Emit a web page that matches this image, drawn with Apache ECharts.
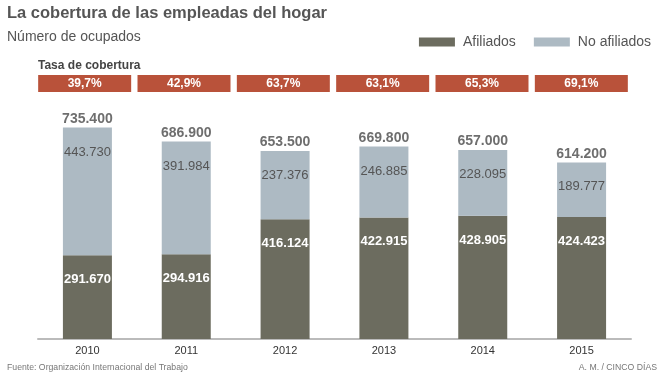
<!DOCTYPE html>
<html>
<head>
<meta charset="utf-8">
<script src="https://cdn.jsdelivr.net/npm/echarts@6/dist/echarts.min.js"></script>
<style>
  html, body { margin: 0; padding: 0; background: #fff; }
  #chart { width: 664px; height: 377px; }
</style>
</head>
<body>
<div id="chart"></div>
<script>
// datos: EPA / OIT, empleadas del hogar
var years = ['2010', '2011', '2012', '2013', '2014', '2015'];
var afiliados = [291670, 294916, 416124, 422915, 428905, 424423];
var noAfiliados = [443730, 391984, 237376, 246885, 228095, 189777];
var totales = [735400, 686900, 653500, 669800, 657000, 614200];
var tasa = [39.7, 42.9, 63.7, 63.1, 65.3, 69.1];

var font = 'Liberation Sans, Arial, sans-serif';

function miles(v) {
    return String(v).replace(/\B(?=(\d{3})+(?!\d))/g, '.');
}

var chart = echarts.init(document.getElementById('chart'));

var option = {
    animation: false,
    textStyle: { fontFamily: font },
    title: [
        {
            text: 'La cobertura de las empleadas del hogar',
            left: 7, top: 5, padding: 0,
            textStyle: { fontSize: 16.5, fontWeight: 'bold', color: '#555' }
        },
        {
            text: 'Número de ocupados',
            left: 7, top: 30, padding: 0,
            textStyle: { fontSize: 14, fontWeight: 'normal', color: '#555' }
        },
        {
            text: 'Tasa de cobertura',
            left: 38, top: 60, padding: 0,
            textStyle: { fontSize: 12, fontWeight: 'bold', color: '#444' }
        },
        {
            text: 'Fuente: Organización Internacional del Trabajo',
            left: 7, top: 363, padding: 0,
            textStyle: { fontSize: 8.7, fontWeight: 'normal', color: '#777' }
        },
        {
            text: 'A. M. / CINCO DÍAS',
            right: 7, top: 363, padding: 0,
            textStyle: { fontSize: 8.7, fontWeight: 'normal', color: '#777' }
        }
    ],
    legend: {
        right: 8, top: 30,
        itemWidth: 36, itemHeight: 9,
        itemGap: 18,
        icon: 'rect',
        data: ['Afiliados', 'No afiliados'],
        textStyle: { fontSize: 14, color: '#555', padding: [0, 0, 0, 3] }
    },
    grid: [
        { left: 38, right: 33, top: 109, bottom: 38 },
        { left: 35, right: 33, top: 75, height: 17 }
    ],
    xAxis: [
        {
            type: 'category', gridIndex: 0, data: years,
            axisLine: { lineStyle: { color: '#bbb', width: 2 } },
            axisTick: { show: false },
            axisLabel: { fontSize: 11, color: '#333', margin: 6 }
        },
        {
            type: 'category', gridIndex: 1, data: years, show: false
        }
    ],
    yAxis: [
        { type: 'value', gridIndex: 0, min: 0, max: 800000, show: false, splitLine: { show: false } },
        { type: 'value', gridIndex: 1, min: 0, max: 1, show: false, splitLine: { show: false } }
    ],
    series: [
        {
            name: 'Afiliados', type: 'bar', stack: 'total',
            barWidth: 49,
            itemStyle: { color: '#6c6c5f' },
            label: {
                show: true, position: 'insideTop', distance: 18,
                fontSize: 13, fontWeight: 'bold', color: '#fff',
                formatter: function (p) { return miles(p.value); }
            },
            data: afiliados
        },
        {
            name: 'No afiliados', type: 'bar', stack: 'total',
            barWidth: 49,
            itemStyle: { color: '#adbac3' },
            label: {
                show: true, position: 'insideTop', distance: 18,
                fontSize: 13, color: '#555',
                formatter: function (p) { return miles(p.value); }
            },
            data: noAfiliados
        },
        {
            name: 'Total', type: 'scatter',
            symbolSize: 1,
            itemStyle: { color: 'rgba(0,0,0,0)' },
            label: {
                show: true, position: 'top', distance: 1,
                fontSize: 14, fontWeight: 'bold', color: '#4a4a4a',
                formatter: function (p) { return miles(p.value); }
            },
            data: totales
        },
        {
            name: 'Tasa', type: 'bar',
            xAxisIndex: 1, yAxisIndex: 1,
            barWidth: 93,
            itemStyle: { color: '#b9523a' },
            label: {
                show: true, position: 'inside',
                fontSize: 12, fontWeight: 'bold', color: '#fff',
                formatter: function (p) { return tasa[p.dataIndex].toFixed(1).replace('.', ',') + '%'; }
            },
            data: tasa.map(function () { return 1; })
        }
    ]
};

chart.setOption(option, true);
</script>
</body>
</html>
